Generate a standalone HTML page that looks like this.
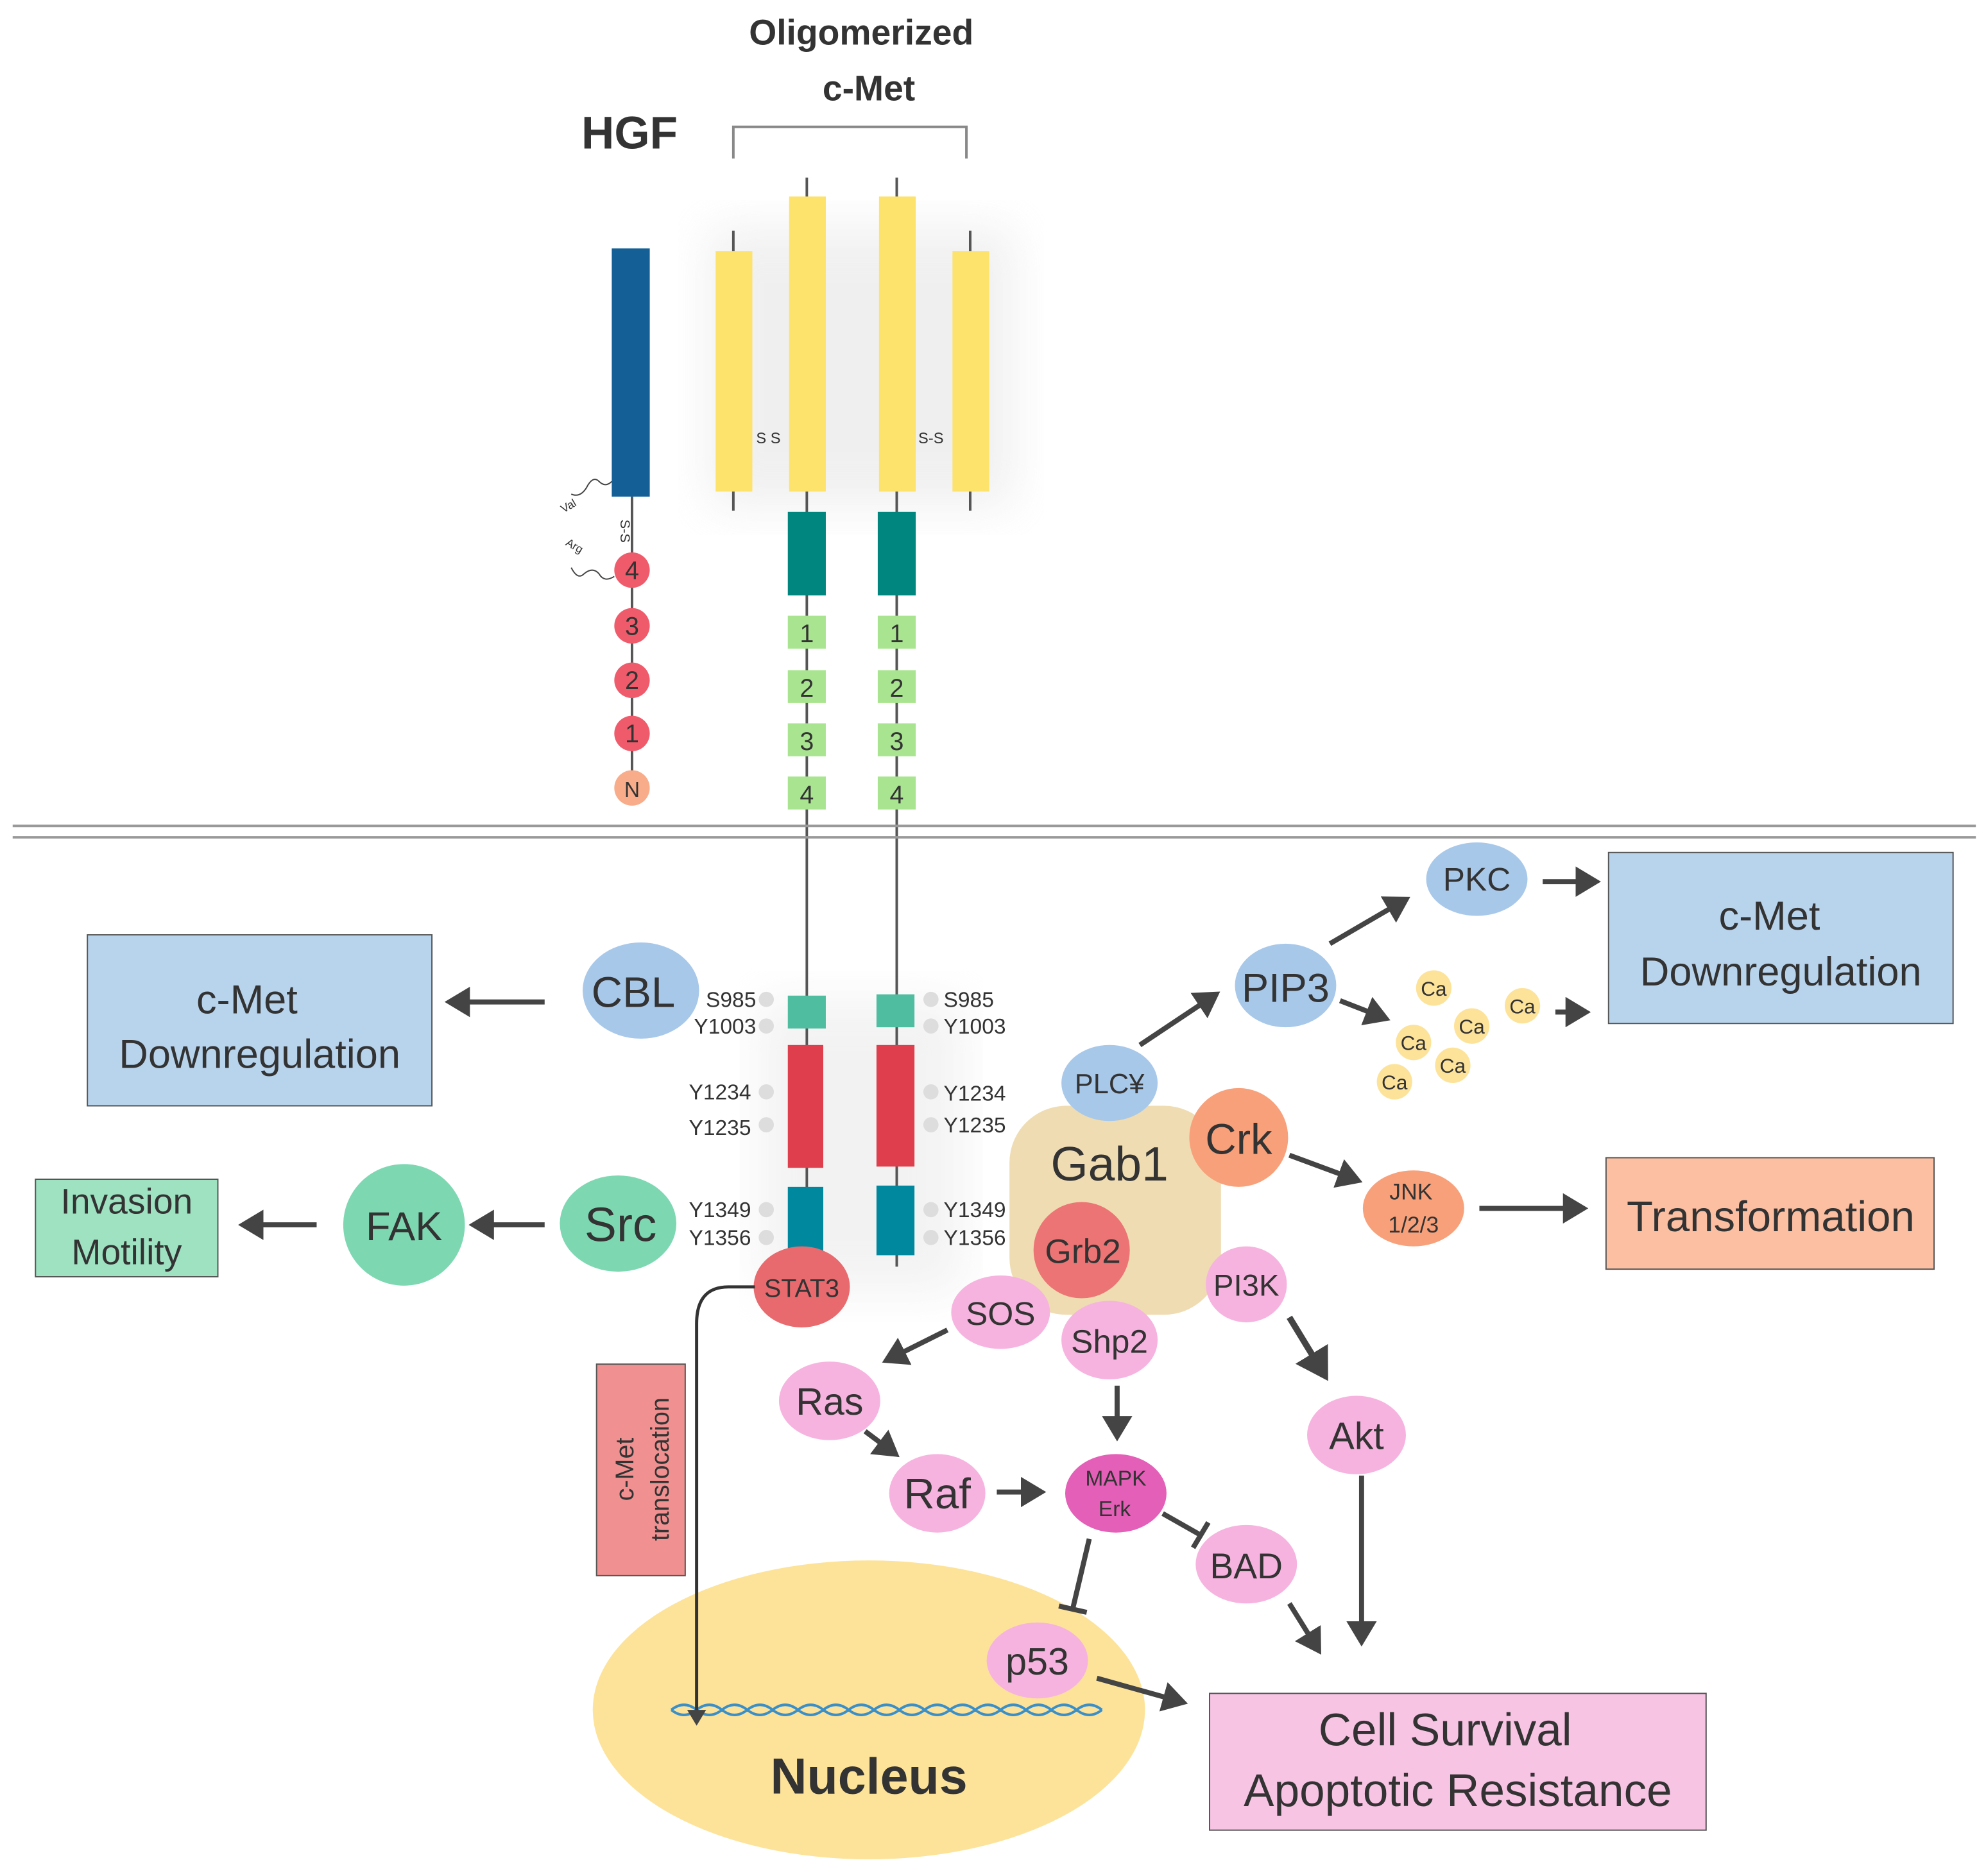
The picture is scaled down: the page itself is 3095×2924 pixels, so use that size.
<!DOCTYPE html>
<html><head><meta charset="utf-8"><style>
html,body{margin:0;padding:0;background:#fff;}
svg{display:block;}
text{font-family:"Liberation Sans",Arial,sans-serif;fill:#333;}
</style></head><body>
<svg width="3095" height="2924" viewBox="0 0 1568 1481" xmlns="http://www.w3.org/2000/svg">
<defs>
<marker id="ah" markerWidth="6" markerHeight="6" refX="4" refY="3" orient="auto" markerUnits="strokeWidth"><path d="M0,0 L5,3 L0,6 z" fill="#444"/></marker>
<filter id="blur"><feGaussianBlur stdDeviation="18"/></filter>
</defs>
<rect width="1568" height="1481" fill="#fff"/>
<!-- shadows -->
<rect x="560" y="180" width="240" height="220" fill="#e6e6e6" filter="url(#blur)" opacity="0.6"/>
<rect x="600" y="790" width="160" height="230" fill="#e6e6e6" filter="url(#blur)" opacity="0.5"/>
<!-- titles -->
<text x="680" y="35" font-size="28" font-weight="bold" text-anchor="middle" fill="#444">Oligomerized</text>
<text x="686" y="79" font-size="28" font-weight="bold" text-anchor="middle" fill="#444">c-Met</text>
<text x="497" y="117" font-size="36" font-weight="bold" text-anchor="middle" fill="#444">HGF</text>
<path d="M579,125 V100 H763 V125" fill="none" stroke="#888" stroke-width="2"/>
<!-- HGF -->
<rect x="483" y="196" width="30" height="196" fill="#135f96"/>
<line x1="499" y1="392" x2="499" y2="625" stroke="#555" stroke-width="2"/>
<text x="490" y="410" font-size="11" transform="rotate(90 490 410)">S-S</text>
<path d="M483,380 q-5,5 -10,0 q-5,-5 -10,5 q-5,8 -12,5" fill="none" stroke="#444"/>
<path d="M485,455 q-8,5 -12,-2 q-5,-6 -12,0 q-5,5 -10,-5" fill="none" stroke="#444"/>
<text x="445" y="405" font-size="9" transform="rotate(-30 445 405)">Val</text>
<text x="446" y="430" font-size="9" transform="rotate(30 446 430)">Arg</text>
<g font-size="20" text-anchor="middle">
<circle cx="499" cy="450" r="14" fill="#ef5b6b"/><text x="499" y="457">4</text>
<circle cx="499" cy="494" r="14" fill="#ef5b6b"/><text x="499" y="501">3</text>
<circle cx="499" cy="537" r="14" fill="#ef5b6b"/><text x="499" y="544">2</text>
<circle cx="499" cy="579" r="14" fill="#ef5b6b"/><text x="499" y="586">1</text>
<circle cx="499" cy="622" r="14" fill="#f8ac8a"/><text x="499" y="629" font-size="17">N</text>
</g>
<!-- c-Met extracellular -->
<g stroke="#555" stroke-width="2">
<line x1="579" y1="182" x2="579" y2="403"/><line x1="637" y1="140" x2="637" y2="1000"/>
<line x1="708" y1="140" x2="708" y2="1000"/><line x1="766" y1="182" x2="766" y2="403"/>
</g>
<g fill="#fde36c">
<rect x="565" y="198" width="29" height="190"/><rect x="623" y="155" width="29" height="233"/>
<rect x="694" y="155" width="29" height="233"/><rect x="752" y="198" width="29" height="190"/>
</g>
<text x="597" y="350" font-size="12">S S</text><text x="725" y="350" font-size="12">S-S</text>
<rect x="622" y="404" width="30" height="66" fill="#00857f"/><rect x="693" y="404" width="30" height="66" fill="#00857f"/>
<g font-size="20" text-anchor="middle">
<g fill="#a9e590"><rect x="622" y="486" width="30" height="26"/><rect x="622" y="529" width="30" height="26"/><rect x="622" y="571" width="30" height="26"/><rect x="622" y="613" width="30" height="26"/>
<rect x="693" y="486" width="30" height="26"/><rect x="693" y="529" width="30" height="26"/><rect x="693" y="571" width="30" height="26"/><rect x="693" y="613" width="30" height="26"/></g>
<text x="637" y="507">1</text><text x="637" y="550">2</text><text x="637" y="592">3</text><text x="637" y="634">4</text>
<text x="708" y="507">1</text><text x="708" y="550">2</text><text x="708" y="592">3</text><text x="708" y="634">4</text>
</g>
<!-- membrane -->
<line x1="10" y1="652" x2="1560" y2="652" stroke="#999" stroke-width="2"/>
<line x1="10" y1="661" x2="1560" y2="661" stroke="#999" stroke-width="2"/>
<!-- intracellular -->
<rect x="622" y="786" width="30" height="26" fill="#4fbea0"/><rect x="692" y="785" width="30" height="26" fill="#4fbea0"/>
<rect x="622" y="825" width="28" height="97" fill="#df3e4c"/><rect x="692" y="825" width="30" height="96" fill="#df3e4c"/>
<rect x="622" y="937" width="28" height="56" fill="#00899e"/><rect x="692" y="936" width="30" height="55" fill="#00899e"/>
<g font-size="17" fill="#333">
<text x="597" y="795" text-anchor="end">S985</text><text x="597" y="816" text-anchor="end">Y1003</text>
<text x="593" y="868" text-anchor="end">Y1234</text><text x="593" y="896" text-anchor="end">Y1235</text>
<text x="593" y="961" text-anchor="end">Y1349</text><text x="593" y="983" text-anchor="end">Y1356</text>
<text x="745" y="795">S985</text><text x="745" y="816">Y1003</text>
<text x="745" y="869">Y1234</text><text x="745" y="894">Y1235</text>
<text x="745" y="961">Y1349</text><text x="745" y="983">Y1356</text>
</g>
<g fill="#ddd"><circle cx="605" cy="789" r="6"/><circle cx="605" cy="810" r="6"/><circle cx="605" cy="862" r="6"/><circle cx="605" cy="888" r="6"/><circle cx="605" cy="955" r="6"/><circle cx="605" cy="977" r="6"/>
<circle cx="735" cy="789" r="6"/><circle cx="735" cy="810" r="6"/><circle cx="735" cy="862" r="6"/><circle cx="735" cy="888" r="6"/><circle cx="735" cy="955" r="6"/><circle cx="735" cy="977" r="6"/></g>
<!-- left side -->
<rect x="69" y="738" width="272" height="135" fill="#b8d3ec" stroke="#555"/>
<text x="195" y="800" font-size="32" text-anchor="middle">c-Met</text>
<text x="205" y="843" font-size="32" text-anchor="middle">Downregulation</text>
<line x1="430" y1="791" x2="355" y2="791" stroke="#444" stroke-width="4" marker-end="url(#ah)"/>
<ellipse cx="506" cy="782" rx="46" ry="38" fill="#a8c8ea"/>
<text x="500" y="795" font-size="34" text-anchor="middle">CBL</text>
<rect x="28" y="931" width="144" height="77" fill="#9ee2c2" stroke="#555"/>
<text x="100" y="958" font-size="28" text-anchor="middle">Invasion</text>
<text x="100" y="998" font-size="28" text-anchor="middle">Motility</text>
<line x1="250" y1="967" x2="192" y2="967" stroke="#444" stroke-width="4" marker-end="url(#ah)"/>
<circle cx="319" cy="967" r="48" fill="#7dd8b2"/><text x="319" y="979" font-size="32" text-anchor="middle">FAK</text>
<line x1="430" y1="967" x2="374" y2="967" stroke="#444" stroke-width="4" marker-end="url(#ah)"/>
<ellipse cx="488" cy="966" rx="46" ry="38" fill="#7dd8b2"/><text x="490" y="980" font-size="38" text-anchor="middle">Src</text>
<!-- nucleus -->
<ellipse cx="686" cy="1350" rx="218" ry="118" fill="#fde39a"/>
<path d="M530,1350 q10,-8 20,0 q10,8 20,0 q10,-8 20,0 q10,8 20,0 q10,-8 20,0 q10,8 20,0 q10,-8 20,0 q10,8 20,0 q10,-8 20,0 q10,8 20,0 q10,-8 20,0 q10,8 20,0 q10,-8 20,0 q10,8 20,0 q10,-8 20,0 q10,8 20,0 q10,-8 20,0 M530,1350 q10,8 20,0 q10,-8 20,0 q10,8 20,0 q10,-8 20,0 q10,8 20,0 q10,-8 20,0 q10,8 20,0 q10,-8 20,0 q10,8 20,0 q10,-8 20,0 q10,8 20,0 q10,-8 20,0 q10,8 20,0 q10,-8 20,0 q10,8 20,0 q10,-8 20,0 q10,8 20,0" fill="none" stroke="#3a8fc8" stroke-width="2"/>
<text x="686" y="1416" font-size="40" font-weight="bold" text-anchor="middle" fill="#444">Nucleus</text>
<!-- STAT3 -->
<ellipse cx="633" cy="1016" rx="38" ry="32" fill="#e86a6e"/><text x="633" y="1024" font-size="20" text-anchor="middle">STAT3</text>
<path d="M596,1016 H575 Q550,1016 550,1045 V1360" fill="none" stroke="#333" stroke-width="2.5" marker-end="url(#ah)"/>
<rect x="471" y="1077" width="70" height="167" fill="#f19090" stroke="#555"/>
<text transform="translate(500 1160) rotate(-90)" font-size="20" text-anchor="middle">c-Met</text>
<text transform="translate(528 1160) rotate(-90)" font-size="20" text-anchor="middle">translocation</text>
<!-- Gab1 -->
<rect x="797" y="873" width="167" height="165" rx="45" fill="#efdcb2"/>
<text x="876" y="932" font-size="38" text-anchor="middle">Gab1</text>
<ellipse cx="876" cy="855" rx="38" ry="30" fill="#a8c8ea"/><text x="876" y="863" font-size="22" text-anchor="middle">PLC¥</text>
<circle cx="978" cy="898" r="39" fill="#f8a07a"/><text x="978" y="911" font-size="34" text-anchor="middle">Crk</text>
<circle cx="854" cy="987" r="38" fill="#ec7474"/><text x="855" y="997" font-size="27" text-anchor="middle">Grb2</text>
<ellipse cx="984" cy="1014" rx="32" ry="30" fill="#f7b3df"/><text x="984" y="1023" font-size="24" text-anchor="middle">PI3K</text>
<ellipse cx="790" cy="1036" rx="39" ry="29" fill="#f7b3df"/><text x="790" y="1046" font-size="26" text-anchor="middle">SOS</text>
<ellipse cx="876" cy="1058" rx="38" ry="31" fill="#f7b3df"/><text x="876" y="1068" font-size="26" text-anchor="middle">Shp2</text>
<!-- PIP3 / PKC -->
<line x1="900" y1="825" x2="960" y2="785" stroke="#444" stroke-width="4" marker-end="url(#ah)"/>
<ellipse cx="1015" cy="778" rx="40" ry="33" fill="#a8c8ea"/><text x="1015" y="791" font-size="32" text-anchor="middle">PIP3</text>
<line x1="1050" y1="745" x2="1110" y2="710" stroke="#444" stroke-width="4" marker-end="url(#ah)"/>
<ellipse cx="1166" cy="694" rx="40" ry="29" fill="#a8c8ea"/><text x="1166" y="703" font-size="26" text-anchor="middle">PKC</text>
<line x1="1218" y1="696" x2="1260" y2="696" stroke="#444" stroke-width="4" marker-end="url(#ah)"/>
<line x1="1058" y1="790" x2="1094" y2="804" stroke="#444" stroke-width="4" marker-end="url(#ah)"/>
<g font-size="16" text-anchor="middle">
<circle cx="1132" cy="780" r="14" fill="#fde39a"/><text x="1132" y="786">Ca</text>
<circle cx="1202" cy="794" r="14" fill="#fde39a"/><text x="1202" y="800">Ca</text>
<circle cx="1162" cy="810" r="14" fill="#fde39a"/><text x="1162" y="816">Ca</text>
<circle cx="1116" cy="823" r="14" fill="#fde39a"/><text x="1116" y="829">Ca</text>
<circle cx="1147" cy="841" r="14" fill="#fde39a"/><text x="1147" y="847">Ca</text>
<circle cx="1101" cy="854" r="14" fill="#fde39a"/><text x="1101" y="860">Ca</text>
</g>
<line x1="1228" y1="799" x2="1252" y2="799" stroke="#444" stroke-width="4" marker-end="url(#ah)"/>
<rect x="1270" y="673" width="272" height="135" fill="#b8d3ec" stroke="#555"/>
<text x="1397" y="734" font-size="32" text-anchor="middle">c-Met</text>
<text x="1406" y="778" font-size="32" text-anchor="middle">Downregulation</text>
<!-- JNK -->
<line x1="1018" y1="912" x2="1072" y2="932" stroke="#444" stroke-width="4" marker-end="url(#ah)"/>
<ellipse cx="1116" cy="954" rx="40" ry="30" fill="#f8a07a"/>
<text x="1114" y="947" font-size="18" text-anchor="middle">JNK</text><text x="1116" y="973" font-size="18" text-anchor="middle">1/2/3</text>
<line x1="1168" y1="954" x2="1250" y2="954" stroke="#444" stroke-width="4" marker-end="url(#ah)"/>
<rect x="1268" y="914" width="259" height="88" fill="#fcbfa2" stroke="#555"/>
<text x="1398" y="972" font-size="34" text-anchor="middle">Transformation</text>
<!-- Ras/Raf/MAPK -->
<line x1="748" y1="1050" x2="700" y2="1074" stroke="#444" stroke-width="4" marker-end="url(#ah)"/>
<ellipse cx="655" cy="1106" rx="40" ry="31" fill="#f7b3df"/><text x="655" y="1117" font-size="30" text-anchor="middle">Ras</text>
<line x1="683" y1="1130" x2="707" y2="1148" stroke="#444" stroke-width="4" marker-end="url(#ah)"/>
<ellipse cx="740" cy="1179" rx="38" ry="31" fill="#f7b3df"/><text x="740" y="1191" font-size="34" text-anchor="middle">Raf</text>
<line x1="787" y1="1178" x2="822" y2="1178" stroke="#444" stroke-width="4" marker-end="url(#ah)"/>
<line x1="882" y1="1094" x2="882" y2="1134" stroke="#444" stroke-width="4" marker-end="url(#ah)"/>
<ellipse cx="881" cy="1179" rx="40" ry="31" fill="#e45fb7"/>
<text x="881" y="1173" font-size="17" text-anchor="middle">MAPK</text><text x="880" y="1197" font-size="17" text-anchor="middle">Erk</text>
<line x1="918" y1="1195" x2="948" y2="1212" stroke="#444" stroke-width="4"/><line x1="942" y1="1222" x2="954" y2="1202" stroke="#444" stroke-width="4"/>
<ellipse cx="984" cy="1235" rx="40" ry="31" fill="#f7b3df"/><text x="984" y="1246" font-size="28" text-anchor="middle">BAD</text>
<line x1="860" y1="1215" x2="847" y2="1270" stroke="#444" stroke-width="4"/><line x1="836" y1="1268" x2="858" y2="1273" stroke="#444" stroke-width="4"/>
<ellipse cx="819" cy="1311" rx="40" ry="30" fill="#f7b3df"/><text x="819" y="1322" font-size="30" text-anchor="middle">p53</text>
<line x1="866" y1="1325" x2="934" y2="1344" stroke="#444" stroke-width="4" marker-end="url(#ah)"/>
<!-- PI3K/Akt -->
<line x1="1018" y1="1040" x2="1046" y2="1086" stroke="#444" stroke-width="5" marker-end="url(#ah)"/>
<ellipse cx="1071" cy="1133" rx="39" ry="31" fill="#f7b3df"/><text x="1071" y="1144" font-size="30" text-anchor="middle">Akt</text>
<line x1="1075" y1="1165" x2="1075" y2="1296" stroke="#444" stroke-width="4" marker-end="url(#ah)"/>
<line x1="1018" y1="1266" x2="1041" y2="1303" stroke="#444" stroke-width="4" marker-end="url(#ah)"/>
<rect x="955" y="1337" width="392" height="108" fill="#f8c4e4" stroke="#555"/>
<text x="1141" y="1378" font-size="36" text-anchor="middle">Cell Survival</text>
<text x="1151" y="1426" font-size="36" text-anchor="middle">Apoptotic Resistance</text>
</svg>
</body></html>
